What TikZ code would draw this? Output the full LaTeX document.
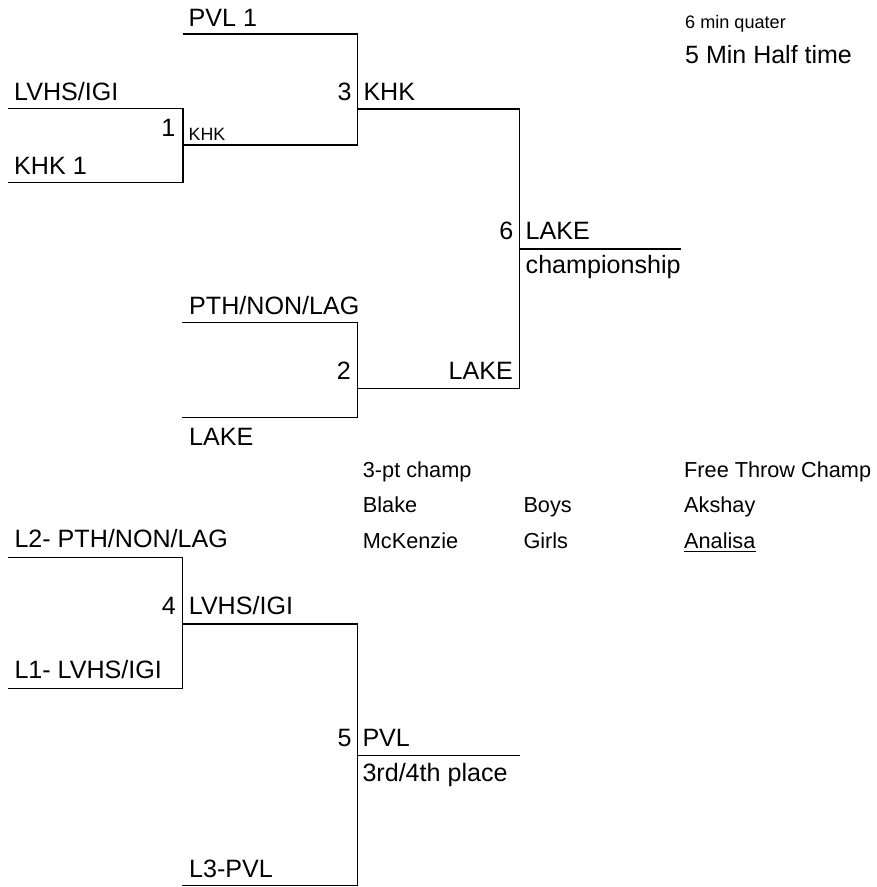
\documentclass[tikz,border=0pt]{standalone}
\usepackage{fontspec}
\setmainfont{Liberation Sans}
\begin{document}
\begin{tikzpicture}[x=1pt,y=-1pt,
  bline/.style={line width=1.35pt,black},
  lbl/.style={anchor=base west,inner sep=0pt,font=\fontsize{25.1}{28}\selectfont},
  rlbl/.style={anchor=base east,inner sep=0pt,font=\fontsize{25.1}{28}\selectfont},
  small/.style={anchor=base west,inner sep=0pt,font=\fontsize{17.8}{20}\selectfont},
  award/.style={anchor=base west,inner sep=0pt,font=\fontsize{21.7}{24}\selectfont}]
\useasboundingbox (0,0) rectangle (877,887);
% coordinates of bracket lines
\coordinate (pvlA) at (183,34);   \coordinate (pvlB) at (357.5,34);
\coordinate (lvA) at (8,108.7);   \coordinate (lvB) at (183,108.7);
\coordinate (khA) at (8,182.7);   \coordinate (khB) at (183,182.7);
\coordinate (m1A) at (183,145);   \coordinate (m1B) at (357.5,145);
\coordinate (m3A) at (357.5,109); \coordinate (m3B) at (519.3,109);
\coordinate (m2A) at (357.3,388.7); \coordinate (m2B) at (519.3,388.7);
\coordinate (m6A) at (519.3,249); \coordinate (m6B) at (680.7,249);
\coordinate (pthA) at (182.3,322.7); \coordinate (pthB) at (357.3,322.7);
\coordinate (lkA) at (182.3,417.3);  \coordinate (lkB) at (357.3,417.3);
\coordinate (l2A) at (8,557.7);   \coordinate (l2B) at (182.7,557.7);
\coordinate (l1A) at (8,688.3);   \coordinate (l1B) at (182.7,688.3);
\coordinate (m4A) at (182.7,624); \coordinate (m4B) at (357.3,624);
\coordinate (m5A) at (357.3,755.7); \coordinate (m5B) at (520,755.7);
\coordinate (l3A) at (182,885.7); \coordinate (l3B) at (357.3,885.7);
% lines
\draw[bline] (lvA) -- (lvB) -- (khB) -- (khA);
\draw[bline] (pvlA) -- (pvlB) -- (m1B) -- (m1A);
\draw[bline] (m3A) -- (m3B) -- (m2B) -- (m2A);
\draw[bline] (m6A) -- (m6B);
\draw[bline] (pthA) -- (pthB) -- (lkB) -- (lkA);
\draw[bline] (l2A) -- (l2B) -- (l1B) -- (l1A);
\draw[bline] (m4A) -- (m4B) -- (l3B) -- (l3A);
\draw[bline] (m5A) -- (m5B);
% labels
\node[lbl] (tpvl) at (188.5,26) {PVL 1};
\node[lbl] (tlv) at (14,100) {LVHS/IGI};
\node[lbl] (tkh) at (14,174) {KHK 1};
\node[rlbl] (n1) at (175.5,136.7) {1};
\node[small] (w1) at (188.5,140) {KHK};
\node[rlbl] (n3) at (351.7,100.5) {3};
\node[lbl] (w3) at (363.3,100.5) {KHK};
\node[rlbl] (n6) at (513.5,239.3) {6};
\node[lbl] (w6) at (525.5,239.3) {LAKE};
\node[lbl] (champ) at (525.5,273) {championship};
\node[lbl] (tpth) at (189,314.3) {PTH/NON/LAG};
\node[rlbl] (n2) at (351,379.3) {2};
\node[rlbl] (w2) at (513,379.3) {LAKE};
\node[lbl] (tlk) at (189,445.7) {LAKE};
\node[lbl] (tl2) at (14.3,547.7) {L2- PTH/NON/LAG};
\node[rlbl] (n4) at (176,614.3) {4};
\node[lbl] (w4) at (188.7,614.3) {LVHS/IGI};
\node[lbl] (tl1) at (14.3,678.3) {L1- LVHS/IGI};
\node[rlbl] (n5) at (351.7,746) {5};
\node[lbl] (w5) at (362.3,746) {PVL};
\node[lbl] (third) at (362.3,781.5) {3rd/4th place};
\node[lbl] (tl3) at (189,877) {L3-PVL};
% notes
\node[anchor=base west,inner sep=0pt,font=\fontsize{18.1}{21}\selectfont] (q) at (685,28.3) {6 min quater};
\node[anchor=base west,inner sep=0pt,font=\fontsize{25}{29}\selectfont] (h) at (685,63.3) {5 Min Half time};
% awards
\node[award] (tp) at (362.7,477.3) {3-pt champ};
\node[award] (bl) at (362.7,512.3) {Blake};
\node[award] (mk) at (362.7,548) {McKenzie};
\node[award] (by) at (523.3,512.3) {Boys};
\node[award] (gl) at (523.3,548) {Girls};
\node[award] (ft) at (684,477.3) {Free Throw Champ};
\node[award] (ak) at (684,512.3) {Akshay};
\node[award] (an) at (684,548) {Analisa};
\draw[line width=1.2pt] ([yshift=-3.7pt]an.base west) -- ([yshift=-3.7pt]an.base east);
\end{tikzpicture}
\end{document}
